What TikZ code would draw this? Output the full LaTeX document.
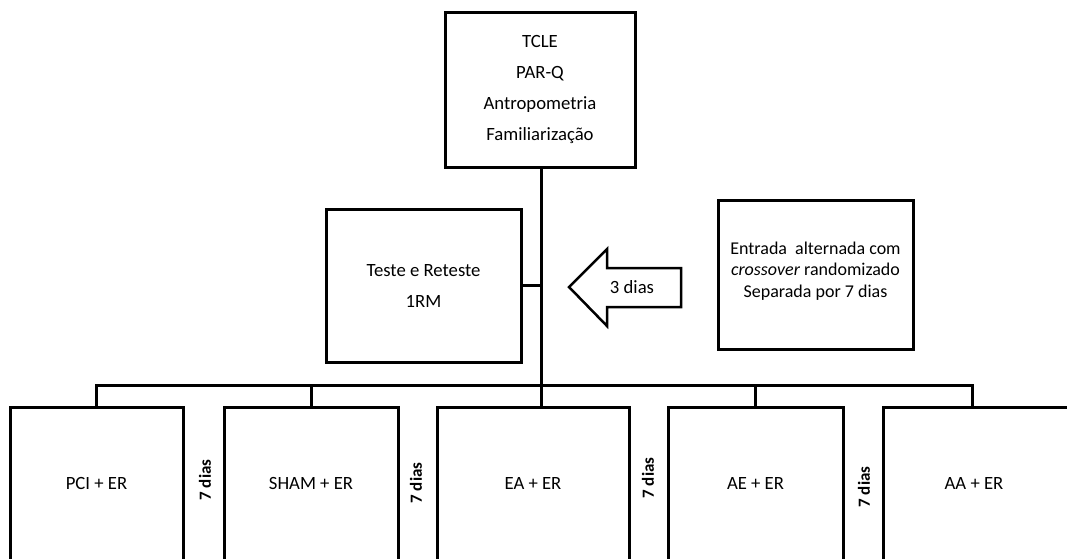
\documentclass[tikz,border=0pt]{standalone}
\usepackage{fontspec}
\setmainfont{Carlito}
\begin{document}
\begin{tikzpicture}[x=1pt,y=-1pt,
  box/.style={draw=black,line width=3pt,fill=white,inner sep=0pt,align=center,font=\fontsize{18.7}{31}\selectfont},
  lbl/.style={inner sep=0pt,align=center,font=\fontsize{18.7}{21}\selectfont},
  days/.style={inner sep=0pt,rotate=90,font=\bfseries\fontsize{17}{20}\selectfont},
  conn/.style={line width=3pt}]
\useasboundingbox (0,0) rectangle (1067,558);
\clip (0,0) rectangle (1067,558);
% top box
\node[box,minimum width=190,minimum height=155] (top) at (540,89.5) {TCLE\\PAR-Q\\Antropometria\\Familiarização};
% teste box
\node[box,minimum width=195,minimum height=153] (teste) at (423.5,285.5) {Teste e Reteste\\1RM};
% right box
\node[box,minimum width=195,minimum height=149] (right) at (815.5,274.5) {};
\node[lbl,font=\fontsize{18}{21}\selectfont] (righttext) at (815.5,271) {Entrada~ alternada com\\\textit{crossover} randomizado\\[1pt]Separada por 7 dias};
% bottom boxes (open at the bottom)
\node[box,minimum width=173,minimum height=180] (pci) at (96.5,497) {};
\node[box,minimum width=174,minimum height=180] (sham) at (311,497) {};
\node[box,minimum width=192,minimum height=180] (ea) at (533,497) {};
\node[box,minimum width=175,minimum height=180] (ae) at (755.5,497) {};
\node[box,minimum width=187,minimum height=180] (aa) at (976.5,497) {};
\node[lbl] (pcit) at (96.5,483) {PCI + ER};
\node[lbl] (shamt) at (311,483) {SHAM + ER};
\node[lbl] (eat) at (533,483) {EA + ER};
\node[lbl] (aet) at (755.5,483) {AE + ER};
\node[lbl] (aat) at (974,483) {AA + ER};
% 7 dias
\node[days] (d1) at (205,480) {7 dias};
\node[days] (d2) at (416,483) {7 dias};
\node[days] (d3) at (648,478) {7 dias};
\node[days] (d4) at (864,487) {7 dias};
% connectors
\coordinate (bus) at (541,385);
\coordinate (eatop) at (541,407);
\coordinate (aadrop) at (972,407);
\draw[conn] (top.south -| bus) -- (eatop);
\draw[conn] (teste.east) -- (teste.east -| bus);
\draw[conn] (pci.north) -- (pci.north |- bus) -- (aadrop |- bus) -- (aadrop);
\draw[conn] (sham.north) -- (sham.north |- bus);
\draw[conn] (ae.north) -- (ae.north |- bus);
% arrow
\draw[line width=2.5pt,line join=miter,fill=white] (569,287) -- (607,249) -- (607,268) -- (681,268) -- (681,307) -- (607,307) -- (607,326) -- cycle;
\node[lbl] (arrowtext) at (632,287) {3 dias};
\end{tikzpicture}
\end{document}
